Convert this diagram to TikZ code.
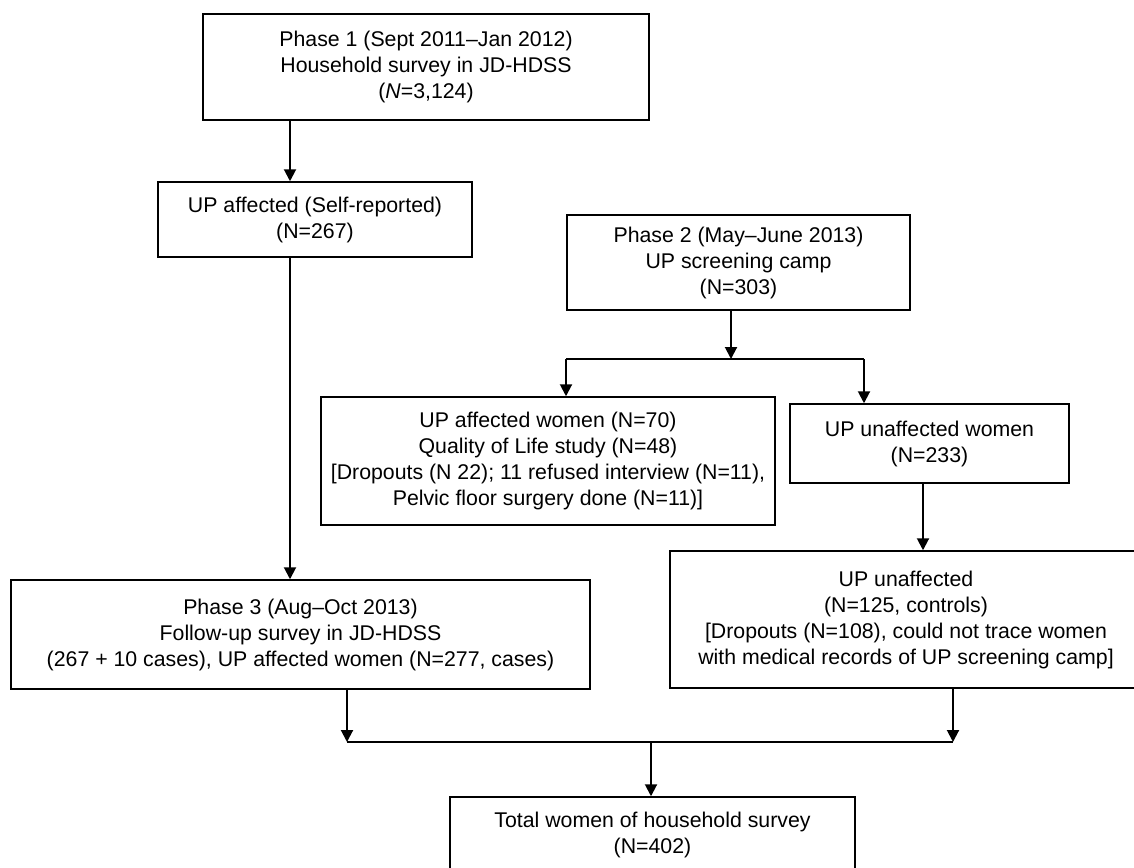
\documentclass[tikz,border=0pt]{standalone}
\usepackage{fontspec}
\setmainfont{Liberation Sans}
\usetikzlibrary{arrows.meta}
\begin{document}
\begin{tikzpicture}[x=1pt,y=-1pt,
  box/.style={draw, line width=1.5pt, align=center, inner sep=0pt, font=\fontsize{21.3}{26}\selectfont},
  arr/.style={line width=2pt, -{Triangle[length=12pt,width=12pt]}},
  ln/.style={line width=2pt}]
\useasboundingbox (0,0) rectangle (1134,867);
\node[box, minimum width=446pt, minimum height=106pt] (p1) at (426,67)
  {Phase 1 (Sept 2011–Jan 2012)\\Household survey in JD-HDSS\\(\textit{N}=3,124)};
\node[box, minimum width=314pt, minimum height=75pt] (upaff) at (315,219.5)
  {UP affected (Self-reported)\\(N=267)};
\node[box, minimum width=343pt, minimum height=95pt] (p2) at (738.5,262.5)
  {Phase 2 (May–June 2013)\\UP screening camp\\(N=303)};
\node[box, minimum width=454pt, minimum height=128pt] (n70) at (548,461)
  {UP affected women (N=70)\\Quality of Life study (N=48)\\{[}Dropouts (N 22); 11 refused interview (N=11),\\Pelvic floor surgery done (N=11)]};
\node[box, minimum width=279pt, minimum height=79pt] (n233) at (929.5,443.5)
  {UP unaffected women\\(N=233)};
\node[box, minimum width=472pt, minimum height=137pt] (n125) at (906,619.5)
  {UP unaffected\\(N=125, controls)\\{[}Dropouts (N=108), could not trace women\\with medical records of UP screening camp]};
\node[box, minimum width=579pt, minimum height=109pt] (p3) at (300.5,634.5)
  {Phase 3 (Aug–Oct 2013)\\Follow-up survey in JD-HDSS\\(267 + 10 cases), UP affected women (N=277, cases)};
\node[box, minimum width=405pt, minimum height=75pt] (tot) at (652.5,834.5)
  {Total women of household survey\\(N=402)};
\coordinate (xa) at (290,0);
\coordinate (xp2) at (731,0);
\coordinate (xs1) at (566,0);
\coordinate (xs2) at (864,0);
\coordinate (xu) at (923,0);
\coordinate (xl) at (347,0);
\coordinate (xr) at (953,0);
\coordinate (xc) at (651,0);
\coordinate (ys) at (0,359);
\coordinate (ym) at (0,742);
\draw[arr] (p1.south -| xa) -- (upaff.north -| xa);
\draw[arr] (upaff.south -| xa) -- (p3.north -| xa);
\draw[arr] (p2.south -| xp2) -- (xp2 |- ys);
\draw[ln] (xs1 |- ys) -- (xs2 |- ys);
\draw[arr] (xs1 |- ys) -- (n70.north -| xs1);
\draw[arr] (xs2 |- ys) -- (n233.north -| xs2);
\draw[arr] (n233.south -| xu) -- (n125.north -| xu);
\draw[arr] (p3.south -| xl) -- (xl |- ym);
\draw[arr] (n125.south -| xr) -- (xr |- ym);
\draw[ln] (xl |- ym) -- (xr |- ym);
\draw[arr] (xc |- ym) -- (tot.north -| xc);
\end{tikzpicture}
\end{document}
